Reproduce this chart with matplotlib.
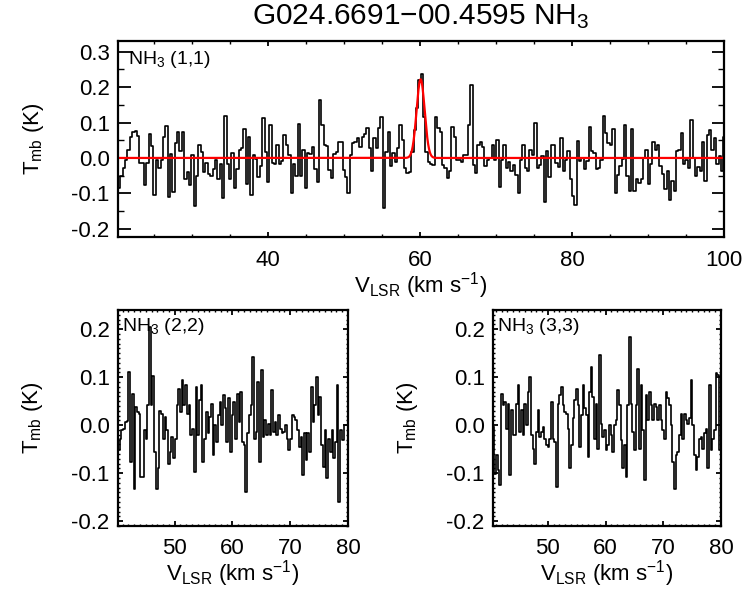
import numpy as np
import matplotlib
matplotlib.use("Agg")
import matplotlib.pyplot as plt
from matplotlib.ticker import MultipleLocator, FormatStrFormatter

plt.rcParams['font.family'] = ['Liberation Sans', 'DejaVu Sans']
plt.rcParams['mathtext.fontset'] = 'custom'
plt.rcParams['mathtext.rm'] = 'Liberation Sans'
plt.rcParams['mathtext.it'] = 'Liberation Sans:italic'
plt.rcParams['mathtext.bf'] = 'Liberation Sans:bold'

# ---------------- data ----------------
title = "G024.6691\u221200.4595 NH$_3$"

# NH3 (1,1) spectrum (K), channel start / width in km/s
v0_11 = 20.45
dv_11 = 0.311
t_11 = [
    -0.086, -0.050, -0.027, -0.005, 0.023, 0.059, 0.073, 0.075, 0.061, -0.014,
    -0.014, -0.075, -0.014, 0.068, 0.034, -0.105, -0.005, -0.027, -0.005, 0.059,
    0.091, -0.109, 0.012, -0.095, 0.041, 0.073, 0.020, 0.073, -0.059, -0.041,
    -0.077, 0.009, -0.136, -0.050, 0.036, 0.018, -0.041, -0.014, -0.045, -0.050,
    -0.032, -0.006, -0.059, -0.018, -0.112, 0.118, -0.018, -0.059, 0.015, -0.086,
    -0.032, 0.023, 0.027, 0.082, -0.073, 0.059, -0.105, 0.009, -0.003, -0.055,
    -0.023, 0.114, 0.018, -0.068, 0.093, -0.014, -0.018, 0.036, -0.018, -0.009,
    0.066, 0.036, 0.009, -0.100, -0.018, -0.050, 0.097, -0.050, 0.023, -0.086,
    0.015, 0.012, 0.032, -0.032, -0.068, 0.164,
    0.093, 0.037, 0.035, -0.034, -0.057, 0.010, 0.016, 0.046, 0.046, -0.034,
    -0.053, -0.100, 0.008, 0.041, 0.044, 0.055, 0.032, 0.060, 0.067, 0.085,
    0.027, -0.038, 0.055, 0.027, 0.084, 0.116, -0.142, 0.018, 0.074, -0.022,
    0.013, -0.010, 0.027, 0.093, 0.051, -0.029, -0.043, -0.040, 0.018, 0.079,
    0.142, 0.220, 0.238, 0.116, 0.018, -0.010, -0.018, -0.020, 0.116, 0.084,
    0.074, -0.020, -0.029, -0.057, -0.038, 0.088, 0.060, -0.005, -0.005, -0.010,
    0.008, 0.008, 0.093, 0.206, -0.020, -0.043, 0.037, 0.044, 0.032, -0.024,
    -0.005, -0.001, 0.037, -0.005, 0.051, -0.081, -0.005, 0.037, -0.029, -0.010,
    -0.036, -0.020, -0.048, -0.100, -0.005, 0.037,
    -0.028, -0.037, 0.023, 0.009, 0.099, -0.028, -0.021, 0.005, -0.123, 0.019,
    -0.053, 0.037, 0.037, -0.014, -0.025, 0.056, -0.037, -0.005, 0.019, -0.060,
    -0.108, -0.134, 0.049, -0.009, 0.000, -0.031, -0.009, 0.088, 0.019, 0.014,
    -0.031, -0.028, -0.005, 0.118, 0.070, 0.042, 0.037, 0.081, -0.099, -0.049,
    -0.023, -0.003, 0.093, -0.051, -0.093, 0.083, -0.093, -0.060, -0.071, -0.060,
    0.000, 0.023, -0.074, -0.018, 0.044, 0.023, 0.037, -0.023, -0.046, -0.088,
    -0.037, -0.120, -0.065, -0.093, 0.019, 0.023, 0.071, -0.018, -0.005, -0.028,
    0.108, 0.000, -0.051, -0.025, -0.037, 0.046, -0.065, 0.065, 0.079, 0.023,
    0.056, -0.018, 0.006, -0.037, 0.058,
]

# Gaussian fit to NH3 (1,1) main line
fit_amp = 0.222
fit_center = 60.1
fit_fwhm = 1.25

# NH3 (2,2) spectrum
v0_22 = 40.35
dv_22 = 0.298
t_22 = [
    -0.052, -0.028, -0.010, -0.007, 0.006, 0.008, 0.111, -0.076, 0.064, -0.132,
    0.038, 0.028, 0.024, -0.108, -0.108, -0.010, -0.028, 0.042, 0.205, 0.042,
    0.103, -0.056, -0.132, -0.089, 0.029, 0.024, -0.028, 0.017, -0.010, -0.080,
    -0.056, -0.024, -0.069, -0.028, 0.042, 0.076, 0.028, 0.094, 0.042, 0.083,
    0.024, 0.042, -0.021, -0.007, -0.097, 0.080, -0.021, 0.052, 0.083, -0.076,
    -0.028, 0.028, -0.017, 0.017, 0.045, -0.063, 0.000, -0.035, 0.021, 0.049,
    0.000, 0.063, 0.035, -0.035, 0.056, -0.056, 0.021, 0.049, -0.028, 0.066,
    0.007, 0.069, -0.035, -0.042, -0.139, -0.017, 0.021, 0.042, 0.142, -0.028,
    -0.014, 0.090, -0.076, 0.115, -0.024, 0.010, -0.021, 0.003, -0.021, 0.073,
    -0.014, 0.007, -0.021, 0.021, -0.007, -0.017, -0.014, 0.000, -0.028, -0.052,
    -0.028, 0.021, 0.017, 0.010, -0.010, -0.045, -0.024, -0.104, -0.017, -0.073,
    -0.017, -0.056, 0.080, 0.007, 0.042, 0.101, 0.021, 0.059, -0.042, -0.087,
    -0.010, -0.111, -0.028, -0.056, -0.010, -0.069, -0.035, 0.083, -0.160, -0.010,
    -0.031, 0.000, 0.000,
]

# NH3 (3,3) spectrum
v0_33 = 40.6
dv_33 = 0.288
t_33 = [
    -0.003, -0.101, -0.063, -0.094, -0.125, 0.064, 0.042, 0.049, -0.007, 0.045,
    -0.104, 0.031, -0.021, -0.021, 0.045, 0.083, -0.014, 0.031, -0.021, 0.045,
    0.000, 0.069, 0.101, -0.021, -0.049, -0.080, -0.014, 0.031, -0.024, -0.014,
    -0.003, -0.028, -0.042, -0.045, -0.028, 0.049, -0.028, -0.035, -0.128, 0.045,
    0.063, 0.080, 0.042, 0.028, 0.024, -0.007, -0.090, -0.042, 0.014, 0.052,
    0.076, 0.042, -0.045, 0.021, 0.083, 0.035, 0.021, -0.066, 0.069, 0.122,
    0.059, -0.028, 0.045, -0.049, 0.146, 0.003, -0.024, -0.010, -0.052, -0.042,
    0.000, -0.021, -0.056, 0.000, 0.010, 0.073, 0.042, -0.031, -0.090, -0.042,
    -0.108, 0.042, 0.184, 0.045, -0.014, -0.052, 0.042, 0.118, -0.049, 0.083,
    -0.010, -0.115, 0.063, 0.010, 0.069, 0.042, 0.010, 0.045, 0.038, 0.010,
    0.042, 0.010, -0.010, -0.028, 0.069, 0.056, 0.042, 0.000, -0.076, -0.132,
    -0.063, -0.056, -0.021, 0.024, -0.028, 0.024, 0.010, 0.003, 0.014, 0.094,
    0.000, -0.063, -0.094, -0.066, -0.028, -0.024, -0.049, -0.017, -0.007, -0.090,
    0.083, -0.052, -0.028, -0.010, 0.108, 0.104, -0.052,
]

labels = ["NH$_3$ (1,1)", "NH$_3$ (2,2)", "NH$_3$ (3,3)"]
xlabel = r"V$_{\rm LSR}$ (km s$^{-1}$)"
ylabel = r"T$_{\rm mb}$ (K)"

# ---------------- figure ----------------
W, H = 750, 600
fig = plt.figure(figsize=(7.5, 6.0), dpi=100)

def frac(l, t, r, b):
    return [l / W, 1 - b / H, (r - l) / W, (b - t) / H]

ax1 = fig.add_axes(frac(118, 41, 724, 237))
ax2 = fig.add_axes(frac(118, 310, 348, 526))
ax3 = fig.add_axes(frac(493, 310, 721, 526))

def vel(v0, dv, t):
    return v0 + dv * np.arange(len(t))

v11 = vel(v0_11, dv_11, t_11)
v22 = vel(v0_22, dv_22, t_22)
v33 = vel(v0_33, dv_33, t_33)

lw_data = 1.2
ax1.step(v11, t_11, where='mid', color='black', lw=lw_data)
vf = np.linspace(20.3, 100.0, 2000)
sig = fit_fwhm / 2.3548
ax1.plot(vf, fit_amp * np.exp(-0.5 * ((vf - fit_center) / sig) ** 2),
         color='red', lw=1.6)
ax2.step(v22, t_22, where='mid', color='black', lw=lw_data)
ax3.step(v33, t_33, where='mid', color='black', lw=lw_data)

ax1.set_xlim(20.3, 100.0)
ax1.set_ylim(-0.223, 0.33)
for ax in (ax2, ax3):
    ax.set_ylim(-0.21, 0.24)
ax2.set_xlim(40.2, 80.0)
ax3.set_xlim(40.5, 80.0)

fs_tick = 16
fs_lab = 16

# top panel ticks
ax1.xaxis.set_major_locator(MultipleLocator(20))
ax1.xaxis.set_minor_locator(MultipleLocator(5))
ax1.yaxis.set_major_locator(MultipleLocator(0.1))
ax1.yaxis.set_minor_locator(MultipleLocator(0.05))
ax1.yaxis.set_major_formatter(FormatStrFormatter('%.1f'))
ax1.tick_params(axis='x', which='major', direction='in', length=3.5, width=1.3,
                top=True, bottom=True, labelsize=fs_tick, pad=9)
ax1.tick_params(axis='x', which='minor', direction='in', length=2, width=1.0,
                top=True, bottom=True)
ax1.tick_params(axis='y', which='major', direction='in', length=9, width=1.3,
                left=True, right=True, labelsize=fs_tick, pad=6)
ax1.tick_params(axis='y', which='minor', direction='in', length=4.5, width=1.0,
                left=True, right=True)

for ax in (ax2, ax3):
    ax.xaxis.set_major_locator(MultipleLocator(10))
    ax.xaxis.set_minor_locator(MultipleLocator(1))
    ax.yaxis.set_major_locator(MultipleLocator(0.1))
    ax.yaxis.set_minor_locator(MultipleLocator(0.01))
    ax.yaxis.set_major_formatter(FormatStrFormatter('%.1f'))
    ax.tick_params(axis='both', which='major', direction='in', length=3.5,
                   width=1.3, top=True, bottom=True, left=True, right=True,
                   labelsize=fs_tick)
    ax.tick_params(axis='both', which='minor', direction='in', length=1.6,
                   width=1.0, top=True, bottom=True, left=True, right=True)
    ax.tick_params(axis='x', which='major', pad=9)
    ax.tick_params(axis='y', which='major', pad=6)

for ax in (ax1, ax2, ax3):
    for s in ax.spines.values():
        s.set_linewidth(1.6)

# axis labels
ax1.set_xlabel(xlabel, fontsize=fs_lab)
ax1.xaxis.set_label_coords(0.5, -0.25)
ax1.xaxis.label.set_va('center')
ax1.set_ylabel(ylabel, fontsize=fs_lab)
ax1.yaxis.set_label_coords(-0.14, 0.5)
ax1.yaxis.label.set_va('center')
for ax, xc in ((ax2, -0.37), (ax3, -0.373)):
    ax.set_xlabel(xlabel, fontsize=fs_lab)
    ax.xaxis.set_label_coords(0.5, -0.222)
    ax.xaxis.label.set_va('center')
    ax.set_ylabel(ylabel, fontsize=fs_lab)
    ax.yaxis.set_label_coords(xc, 0.5)
    ax.yaxis.label.set_va('center')

# panel labels
ax1.text(0.016, 0.96, labels[0], transform=ax1.transAxes, ha='left', va='top',
         fontsize=14)
ax2.text(0.018, 0.97, labels[1], transform=ax2.transAxes, ha='left', va='top',
         fontsize=14)
ax3.text(0.018, 0.97, labels[2], transform=ax3.transAxes, ha='left', va='top',
         fontsize=14)

fig.text(421 / W, 1 - 17 / H, title, ha='center', va='center', fontsize=21.5)

fig.savefig("out.png", dpi=100)
